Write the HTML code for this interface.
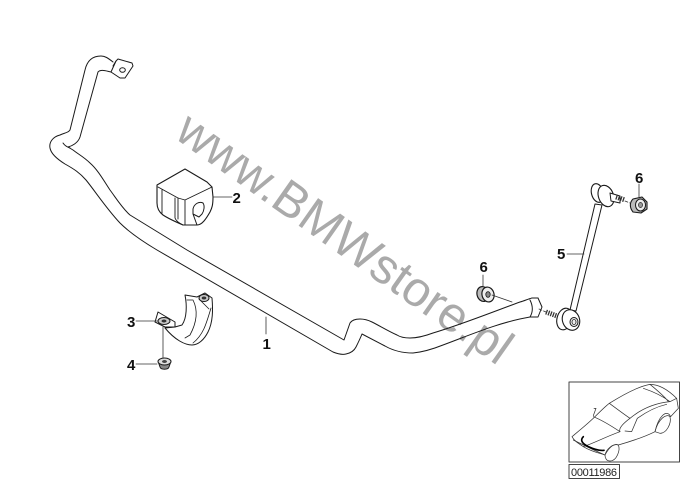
<!DOCTYPE html>
<html><head><meta charset="utf-8"><style>
html,body{margin:0;padding:0;background:#fff}
body{width:686px;height:484px;overflow:hidden}
svg{display:block}
.l{font:bold 15px "Liberation Sans",sans-serif;fill:#111}
</style></head><body>
<svg width="686" height="484" viewBox="0 0 686 484" xmlns="http://www.w3.org/2000/svg">
<text x="173" y="137" transform="rotate(35.200 173 137)" font-family="Liberation Sans, sans-serif" font-size="49" fill="#aaa">www.BMWstore.pl</text>
<g fill="none" stroke="#1a1a1a" stroke-linejoin="round" stroke-linecap="round">

<!-- stabilizer bar -->
<path stroke-width="1" d="M113 62 C108 58 105 56 101 56 C92 56 87 61 85 70 L70 130 C68 133 64 133 60 135 C52 137 49 143 50 148 C51 154 57 159 65 164 C74 169 80 173 86 180 C95 191 106 208 120 223 C128 231 142 241 157 250 L333 352 C338 354 342 355 346 354 C351 353 354 351 356 347 C358 343 360 339 362 334 L385 346 C392 350 400 353 413 353 C423 352 433 349 443 345 C470 335 500 322 530 317 L538 317 L542 307 L538 298 L532 298 C528 299 524 301 520 302 C490 313 460 325 433 333 C425 336 417 338 410 338 C405 338 400 337 397 335 C388 331 380 326 372 322 C368 320 364 319 360 319 C355 319 352 320 350 323 L344 340 L187 250 L130 215 C122 208 116 198 110 190 C104 181 98 170 90 163 C84 157 78 154 73 150 L68 147 C72 146 78 143 80 137 L98 72 C101 69 106 71 111 72"/>
<path stroke-width="1" d="M63 143 C65 146 67 147 70 148"/>
<!-- bar top bracket -->
<path fill="#fff" stroke-width="1" d="M116 61 L118 59 L132 63 L133 66 L125 78 L120 78 L111 72 Z"/>
<ellipse cx="122.500" cy="70" rx="2.800" ry="2.200" stroke-width="1"/>
<path stroke-width="1" d="M116 61 L113 66 M530 300 C533 306 533 312 530 317 M532 298 L538 298"/>

<!-- bushing 2 -->
<path fill="#fff" stroke-width="1.100" d="M157 185 L185 169 L207 182 L212 187 L213 197 C213 205 212 208 210 212 C206 219 202 225 197 225 L183 225 C176 222 169 219 163 215 C159 212 157 208 157 203 Z"/>
<path stroke-width=".9" d="M158 187 L178 198 L185 200 L212 187 M162 190 L162 213 M175 198 L175 218 C176 221 179 223 183 225 M178 198 L178 219 M185 200 L185 225"/>
<path fill="#fff" stroke-width="1" d="M193 209 C194 204 199 201 203 203 C205 206 204 211 202 214 L199 217 L197 216 L193 214 Z M193 214 L197 225"/>
<!-- clamp 3 -->
<path fill="#fff" stroke-width="1" d="M185 295 L197 297 L205 293 L212 298 C213 310 213 322 208 332 C204 340 198 345 192 345 C185 345 175 340 165 328 L175 327 L182 325 C187 318 187 305 185 295 Z"/>
<path stroke-width=".8" d="M193 300 C198 310 197 322 190 335 L185 338 M211 308 C206 325 203 335 193 343 M199 299 L209 309 M187 300 L193 300"/>
<path fill="#fff" stroke-width="1" d="M155 322 L158 312 L175 322 L175 327 L165 327 Z"/>
<ellipse cx="164" cy="321" rx="6" ry="3.500" fill="#ccc" stroke-width="1"/>
<ellipse cx="164" cy="321" rx="2.500" ry="1.500" fill="#333" stroke="none"/>
<ellipse cx="204" cy="298" rx="5" ry="3.500" fill="#ccc" stroke-width="1"/>
<ellipse cx="204" cy="298" rx="2.300" ry="1.500" fill="#333" stroke="none"/>
<!-- nut 4 -->
<path fill="#888" stroke-width="1" d="M158 361 L160 367 C161 370 168 370 169 367 L171 361 Z"/>
<ellipse cx="164.500" cy="361.500" rx="6.500" ry="3.500" fill="#ddd" stroke-width="1"/>
<ellipse cx="164.500" cy="361.500" rx="2.500" ry="1.500" fill="#444" stroke="none"/>

<!-- left nut 6 -->
<ellipse cx="483" cy="294" rx="6" ry="7.500" fill="#bbb" stroke-width="1.200" transform="rotate(-15 483 294)"/>
<ellipse cx="488" cy="294.500" rx="6" ry="7.500" fill="#eee" stroke-width="1.200" transform="rotate(-15 488 294.500)"/>
<ellipse cx="488" cy="294.500" rx="2.200" ry="2.800" fill="#888" stroke-width=".8"/>

<!-- link rod 5 -->
<path fill="#fff" stroke-width="1" d="M595 204 L570 310 L576 311 L602 205 Z"/>
<!-- top joint -->
<ellipse cx="597.500" cy="193" rx="6" ry="9.500" fill="#fff" stroke-width="1.100" transform="rotate(-15 597.500 193)"/>
<ellipse cx="606" cy="196" rx="7.500" ry="11" fill="#fff" stroke-width="1.100" transform="rotate(-20 606 196)"/>
<path fill="#fff" stroke-width="1" d="M610 193 L620 196 L620 203 L611 201 Z"/>
<path stroke="#333" stroke-width="5" stroke-dasharray="1.300 1.100" stroke-linecap="butt" d="M616 197 L625 200"/>
<!-- top nut -->
<path fill="#bbb" stroke-width="1.100" d="M633 199 L642 197 L647 202 L647 209 L641 213 L633 212 C629 207 630 202 633 199 Z"/>
<ellipse cx="640.500" cy="205" rx="5" ry="6" fill="#eee" stroke-width="1"/>
<ellipse cx="640.500" cy="205" rx="2" ry="2.500" fill="#999" stroke-width=".7"/>
<!-- bottom joint -->
<ellipse cx="564.500" cy="319" rx="7.500" ry="11" fill="#fff" stroke-width="1.100" transform="rotate(15 564.500 319)"/>
<ellipse cx="571" cy="320" rx="8.500" ry="10.500" fill="#fff" stroke-width="1.100" transform="rotate(-20 571 320)"/>
<ellipse cx="574" cy="322" rx="4" ry="4.500" fill="#eee" stroke-width="1"/>
<ellipse cx="574" cy="322" rx="2" ry="2.500" stroke-width=".8"/>
<path stroke="#333" stroke-width="5" stroke-dasharray="1.300 1.100" stroke-linecap="butt" d="M546 312 L557 316"/>

<!-- leader and dashed lines -->
<g stroke-width=".8" stroke="#333">
<path d="M213 197 H232"/>
<path d="M266 317 V334"/>
<path d="M136 321 H158"/>
<path d="M136 364 H157"/>
<path d="M163 327 V358"/>
<path d="M567 254 H584"/>
<path d="M483 275 V286"/>
<path d="M639 184 V197"/>
<path d="M492 295 L512 302"/>
<path stroke-dasharray="3 2" d="M625 201 L630 203"/>
<path stroke-dasharray="3 2" d="M539 309 L546 312"/>
</g>

<!-- inset -->
<rect x="569" y="382" width="110.500" height="80" stroke="#444" stroke-width="1"/>
<rect x="569" y="464.500" width="50.500" height="14" stroke="#444" stroke-width="1"/>
<g transform="translate(560 375) scale(.3333)" stroke="#333" stroke-width="2.200">
<path d="M36 185 C60 165 85 145 105 125 C120 110 135 95 148 85 C180 65 230 35 270 28 C300 28 330 50 350 70 L355 100 L332 125 C320 100 295 125 285 170 C255 185 210 200 175 210 C165 205 150 212 135 240 C120 235 95 230 70 215 C55 205 42 197 36 185 Z"/>
<path d="M148 85 C175 105 195 120 210 130 C190 145 175 160 180 170 C150 150 125 135 100 125 M210 130 C240 105 280 85 330 80 L350 70 M250 40 C280 50 310 65 330 80 M270 28 C290 45 315 65 325 80"/>
<path d="M180 170 C150 180 100 205 70 215 M40 195 C70 210 100 225 135 240 M195 168 L215 170 L232 130 C260 110 290 95 320 88"/>
<path d="M135 240 C140 220 160 205 175 210 C182 225 170 258 150 258 C140 258 135 250 135 240 Z"/>
<path d="M285 170 C295 130 320 115 330 125 C335 145 320 175 300 175 Z"/>
<path d="M100 122 L108 100 L102 100"/>
<path stroke="#000" stroke-width="5" d="M70 185 C60 195 65 205 85 215 C100 222 115 228 132 226"/>
</g>
</g>

<text class="l" x="232.500" y="203">2</text>
<text class="l" x="262.500" y="349">1</text>
<text class="l" x="127" y="327">3</text>
<text class="l" x="127" y="370">4</text>
<text class="l" x="557" y="259">5</text>
<text class="l" x="479.500" y="272">6</text>
<text class="l" x="635" y="183">6</text>
<text x="571" y="476" font-family="Liberation Sans, sans-serif" font-size="11" fill="#222" textLength="46">00011986</text>
</svg>
</body></html>
